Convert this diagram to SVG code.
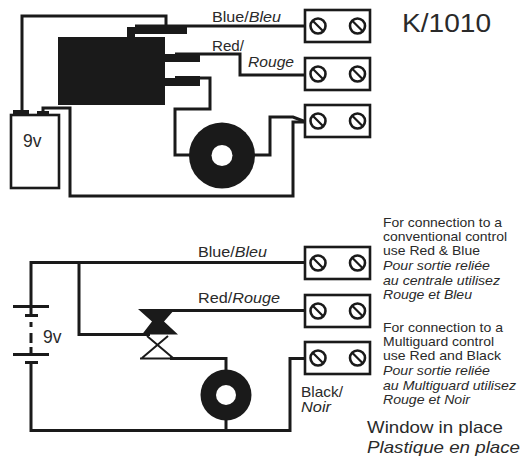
<svg xmlns="http://www.w3.org/2000/svg" width="521" height="458" viewBox="0 0 521 458">
<style>
text{font-family:"Liberation Sans",Arial,sans-serif;fill:#2a2a2a}
.i{font-style:italic}
.s{font-size:13px}
.m{font-size:14.500px}
.w{fill:none;stroke:#1a1a1a;stroke-width:3;stroke-linejoin:miter}
.t{fill:none;stroke:#1a1a1a;stroke-width:2}
.b{fill:#1a1a1a}
.o{fill:#fff;stroke:#1a1a1a;stroke-width:2.6}
.sc{fill:#fff;stroke:#1a1a1a;stroke-width:2.6}
.sl{stroke:#1a1a1a;stroke-width:2.2}
</style>
<defs>
<g id="term">
<rect class="o" x="0" y="0" width="65" height="32"/>
<circle class="sc" cx="13" cy="16" r="7.500"/>
<line class="sl" x1="8" y1="11" x2="18" y2="21"/>
<circle class="sc" cx="52.500" cy="16" r="7.500"/>
<line class="sl" x1="47.500" y1="11" x2="57.500" y2="21"/>
</g>
</defs>
<rect width="521" height="458" fill="#fff"/>
<g id="connectors">
<path class="w" d="M22 110V16H166V26M135 26H306"/>
<path class="w" d="M175 54H240V75H306"/>
<path class="w" d="M175 78H210V109H175V155H195"/>
<path class="w" d="M250 155H270V117H293L306 122"/>
<path class="w" d="M43 112V108H70V196H293V122H306"/>
<path class="w" d="M31 306V262.500H305M79 262.500V334.500H150"/>
<path class="w" d="M165 310.500H305"/>
<path class="w" d="M31 362V430.500H290V358.500H306"/>
<path class="w" d="M31 306V316M31 322V327M31 333V343M31 347V354"/>
<path class="w" d="M170 358.500H226V372M226 418V430"/>
</g>
<g id="relay">
<rect class="b" x="58" y="37" width="107" height="68"/>
<path class="b" d="M127 27H187V34H135V37H127Z"/>
<path class="b" d="M165 54H175V53H200V62H165Z"/>
<path class="b" d="M165 78H175V76H200V86H165Z"/>
</g>
<g id="battery-top">
<rect class="o" x="11" y="115" width="48" height="73"/>
<path class="b" d="M13 110H29V115H13Z"/>
<path class="b" d="M37 111H49V115H37Z"/>
<text x="23" y="147" font-size="17.500">9v</text>
</g>
<g id="coil-top">
<circle class="b" cx="222" cy="155.500" r="33"/>
<circle cx="222" cy="155.500" r="10.500" fill="#fff"/>
</g>
<g id="terminal-1"><use href="#term" x="305" y="10"/></g>
<g id="terminal-2"><use href="#term" x="305" y="58"/></g>
<g id="terminal-3"><use href="#term" x="305" y="105"/></g>
<g id="battery-symbol">
<path class="w" d="M13 306.500H49M13 354.500H49"/>
<path class="w" d="M25 315.500H38M25 362.500H38"/>
<text x="43" y="343" font-size="17.500">9v</text>
</g>
<g id="transistor">
<path class="b" d="M138 309H175L164 321.500L178 334.500H142L152 321.500Z"/>
<path class="t" d="M147 336L173 358M168 336L142 358M140 358.500H176"/>
</g>
<g id="coil-bottom">
<circle class="b" cx="226" cy="395" r="25.500"/>
<circle cx="226" cy="395" r="10" fill="#fff"/>
</g>
<g id="terminal-4"><use href="#term" x="305" y="247"/></g>
<g id="terminal-5"><use href="#term" x="305" y="295"/></g>
<g id="terminal-6"><use href="#term" x="305" y="342"/></g>
<g id="labels">
<text x="212" y="22" class="m" textLength="69" lengthAdjust="spacingAndGlyphs">Blue/<tspan class="i">Bleu</tspan></text>
<text x="212" y="51" class="m" textLength="32" lengthAdjust="spacingAndGlyphs">Red/</text>
<text x="248" y="67" class="m i" textLength="46" lengthAdjust="spacingAndGlyphs">Rouge</text>
<text x="402" y="32" font-size="26" textLength="89" lengthAdjust="spacingAndGlyphs">K/1010</text>
<text x="198" y="257" class="m" textLength="69" lengthAdjust="spacingAndGlyphs">Blue/<tspan class="i">Bleu</tspan></text>
<text x="198" y="303" class="m" textLength="82" lengthAdjust="spacingAndGlyphs">Red/<tspan class="i">Rouge</tspan></text>
<text x="301" y="397" class="m" textLength="42" lengthAdjust="spacingAndGlyphs">Black/</text>
<text x="301" y="412" class="m i" textLength="30" lengthAdjust="spacingAndGlyphs">Noir</text>
<text x="383" y="227" class="s" textLength="119" lengthAdjust="spacingAndGlyphs">For connection to a</text>
<text x="383" y="241" class="s" textLength="124" lengthAdjust="spacingAndGlyphs">conventional control</text>
<text x="383" y="255" class="s" textLength="97" lengthAdjust="spacingAndGlyphs">use Red &amp; Blue</text>
<text x="383" y="270" class="s i" textLength="107" lengthAdjust="spacingAndGlyphs">Pour sortie reliée</text>
<text x="383" y="285" class="s i" textLength="117" lengthAdjust="spacingAndGlyphs">au centrale utilisez</text>
<text x="383" y="299" class="s i" textLength="89" lengthAdjust="spacingAndGlyphs">Rouge et Bleu</text>
<text x="383" y="332" class="s" textLength="120" lengthAdjust="spacingAndGlyphs">For connection to a</text>
<text x="383" y="346" class="s" textLength="111" lengthAdjust="spacingAndGlyphs">Multiguard control</text>
<text x="383" y="360" class="s" textLength="118" lengthAdjust="spacingAndGlyphs">use Red and Black</text>
<text x="383" y="375" class="s i" textLength="107" lengthAdjust="spacingAndGlyphs">Pour sortie reliée</text>
<text x="383" y="390" class="s i" textLength="133" lengthAdjust="spacingAndGlyphs">au Multiguard utilisez</text>
<text x="383" y="404" class="s i" textLength="87" lengthAdjust="spacingAndGlyphs">Rouge et Noir</text>
<text x="367" y="433" font-size="16.500" textLength="136" lengthAdjust="spacingAndGlyphs">Window in place</text>
<text x="367" y="452.500" font-size="16.500" class="i" textLength="153" lengthAdjust="spacingAndGlyphs">Plastique en place</text>
</g>
</svg>
